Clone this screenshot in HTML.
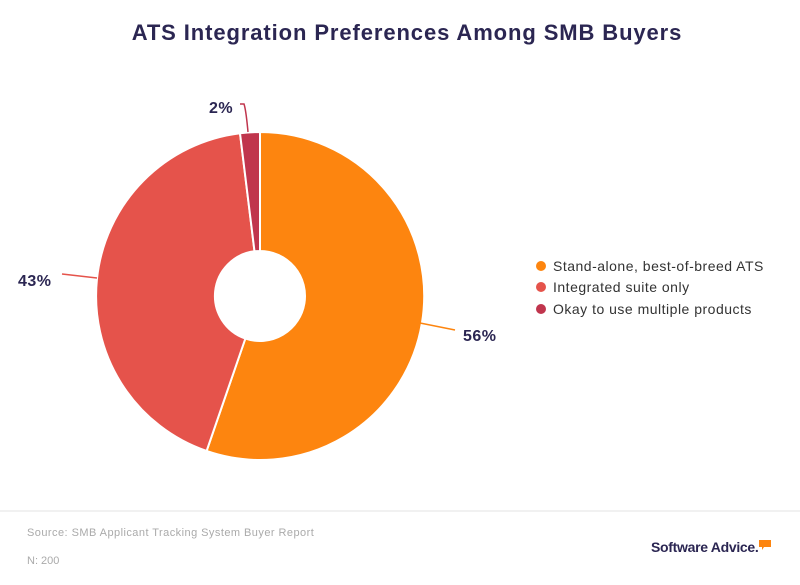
<!DOCTYPE html>
<html><head><meta charset="utf-8"><style>
body{margin:0;background:#fff;width:800px;height:580px;overflow:hidden;font-family:"Liberation Sans",sans-serif}
</style></head><body>
<svg width="800" height="580" xmlns="http://www.w3.org/2000/svg" font-family="Liberation Sans, sans-serif">
<text x="407" y="40" text-anchor="middle" font-size="22" font-weight="bold" fill="#2b2652" letter-spacing="0.9">ATS Integration Preferences Among SMB Buyers</text>
<g stroke="#fff" stroke-width="2">
<path d="M260,132 A164,164 0 1 1 206.6,451 L245.35,338.55 A45,45 0 1 0 260,251 Z" fill="#fd850f"/>
<path d="M206.6,451 A164,164 0 0 1 240,133.2 L254.5,251.3 A45,45 0 0 0 245.35,338.55 Z" fill="#e5534b"/>
<path d="M240,133.2 A164,164 0 0 1 260,132 L260,251 A45,45 0 0 0 254.5,251.3 Z" fill="#c0354d"/>
</g>
<path d="M420,323 L455,330" stroke="#fd850f" stroke-width="1.5" fill="none"/>
<path d="M97,278 L62,274" stroke="#e5534b" stroke-width="1.5" fill="none"/>
<path d="M248,132 Q246,110 244,104 L240,104" stroke="#c0354d" stroke-width="1.5" fill="none"/>
<g font-size="16" font-weight="bold" fill="#2b2652" letter-spacing="0.5">
<text x="463" y="341">56%</text>
<text x="18" y="286">43%</text>
<text x="209" y="113">2%</text>
</g>
<g font-size="14" fill="#333" letter-spacing="0.5">
<circle cx="541" cy="266" r="5" fill="#fd850f"/><text x="553" y="271">Stand-alone, best-of-breed ATS</text>
<circle cx="541" cy="287" r="5" fill="#e5534b"/><text x="553" y="292">Integrated suite only</text>
<circle cx="541" cy="309" r="5" fill="#c0354d"/><text x="553" y="314">Okay to use multiple products</text>
</g>
<line x1="0" y1="511" x2="800" y2="511" stroke="#e3e3e3" stroke-width="1"/>
<text x="27" y="536" font-size="11" fill="#aaa" letter-spacing="0.45">Source: SMB Applicant Tracking System Buyer Report</text>
<text x="27" y="564" font-size="11" fill="#aaa">N: 200</text>
<text x="651" y="552" font-size="14" font-weight="bold" fill="#2b2652" letter-spacing="-0.3">Software Advice.</text>
<path d="M759,540 h12 v7 h-7 l-2,3 v-3 h-3 z" fill="#fd850f"/>
</svg>
</body></html>
